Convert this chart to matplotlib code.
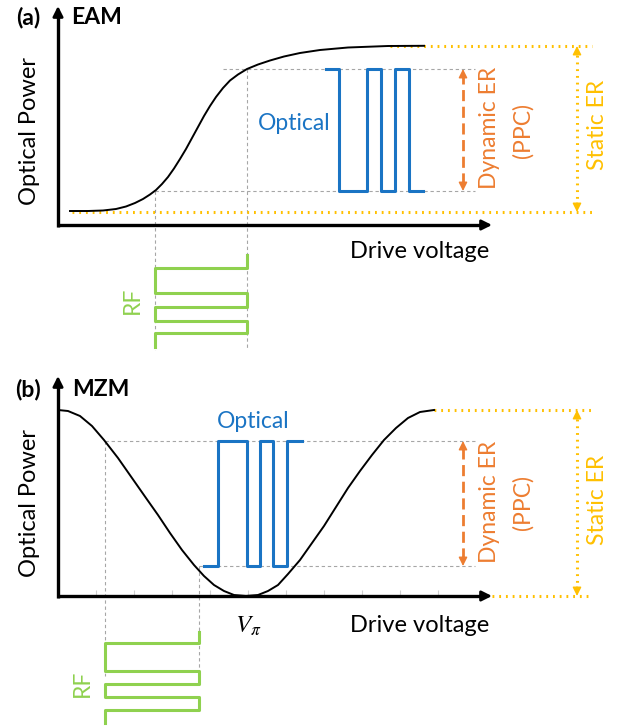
# EAM / MZM transfer-curve schematic: drive voltage -> optical power

import matplotlib.pyplot as plt

plt.rcParams['font.family'] = ['Lato', 'DejaVu Sans']
plt.rcParams['mathtext.fontset'] = 'stix'

BLUE = '#1a74c4'
GREEN = '#8fd14f'
ORANGE = '#ed7d31'
YELLOW = '#ffc000'
GRAY = '#a6a6a6'

# ---- data (drive voltage / optical power, arbitrary units)
# (a) EAM transfer curve
eam_v = [12, 30, 45, 58, 68, 77, 85, 92, 98, 104, 110, 116, 122, 128, 134, 140,
         146, 152, 158, 165, 172, 180, 189, 200, 212, 226, 242, 262, 290, 330,
         366]
eam_p = [14, 14, 14.5, 16, 18.5, 22, 26, 30.5, 35, 41, 48, 56.5, 66, 76, 87, 98,
         109, 119, 128, 137, 144.5, 150.5, 156, 160.5, 164.5, 168.5, 172, 175,
         177.5, 179, 179.2]
eam_ppc = [34, 156]          # optical low / high level of the modulated signal
eam_static = [13, 179]       # min / max of the curve
eam_rf_level = [97, 189]     # RF low / high drive voltage
eam_opt_edges = [268, 281, 309, 323, 337, 351, 365]
eam_rf_edges = [-30, -43, -68, -82, -96, -108, -122]

# (b) MZM transfer curve
mzm_v = [0, 10, 22, 34, 46, 60, 74, 88, 100, 112, 124, 136, 146, 156, 166, 176,
         188, 200, 210, 220, 230, 242, 254, 266, 278, 290, 302, 314, 326, 338,
         350, 362, 376]
mzm_p = [186, 185, 180, 170, 156, 138, 118, 98, 81, 63, 46, 31, 20, 11, 5, 1,
         0, 1, 5, 11, 22, 36, 53, 70, 89, 108, 125, 141, 156, 168, 178, 184, 186]
mzm_ppc = [30, 155]
mzm_static = [0, 186]
mzm_rf_level = [47, 141]
mzm_opt_edges = [146, 160, 189, 202, 215, 229, 244]
mzm_rf_edges = [-36, -47, -75, -88, -101, -114, -127]
mzm_ticks = [38, 76, 114, 152, 190, 228, 266, 304, 342, 380]
v_pi = 190

bits = [1, 0, 1, 0, 1, 0]


def square(edges, bits, lo, hi):
    xs, ys = [], []
    for i, b in enumerate(bits):
        lvl = hi if b else lo
        xs += [edges[i], edges[i + 1]]
        ys += [lvl, lvl]
    return xs, ys


def arrow(ax, xy, xytext, color, lw, ms):
    ap = dict(arrowstyle='-|>', color=color, lw=lw, mutation_scale=ms,
              shrinkA=0, shrinkB=0)
    an = ax.annotate('', xy=xy, xytext=xytext, arrowprops=ap,
                     annotation_clip=False)
    an.arrow_patch.set_clip_on(False)
    return an


def axes_arrows(ax, xtop, ytop):
    # shafts as plain lines, heads as short arrows
    ax.plot([0, 0], [-1.5, ytop - 8], color='k', lw=2.4, clip_on=False,
            solid_capstyle='butt', zorder=4)
    ax.plot([-1.5, xtop - 8], [0, 0], color='k', lw=2.4, clip_on=False,
            solid_capstyle='butt', zorder=4)
    arrow(ax, (0, ytop), (0, ytop - 12), 'k', 2.0, 15)
    arrow(ax, (xtop, 0), (xtop - 12, 0), 'k', 2.0, 15)


def double_arrow(ax, x, y0, y1, color, ls, lw=2.0):
    ax.plot([x, x], [y0 + 7, y1 - 7], color=color, lw=lw, ls=ls, clip_on=False)
    arrow(ax, (x, y1), (x, y1 - 9), color, 1, 13)
    arrow(ax, (x, y0), (x, y0 + 9), color, 1, 13)


fig = plt.figure(figsize=(6.2, 7.26), dpi=100)
W, H = 620, 726

# axes boxes in pixels: left, axis y (bottom), width, height
axa = fig.add_axes([58 / W, (H - 225) / H, 434 / W, 219 / H])
axb = fig.add_axes([58 / W, (H - 596) / H, 434 / W, 220 / H])

dash = (0, (3, 2.5))
dot = (0, (0.6, 1.6))

for ax in (axa, axb):
    ax.set_xlim(0, 434)
    ax.patch.set_visible(False)
    for s in ax.spines.values():
        s.set_visible(False)
    ax.set_yticks([])
axa.set_ylim(0, 219)
axb.set_ylim(0, 220)
axa.set_xticks([])
axb.set_xticks(mzm_ticks)
axb.tick_params(axis='x', direction='in', length=4, width=0.8,
                color='#cfcfcf', labelbottom=False)

# ---------------- (a) EAM
ax = axa
lo, hi = eam_ppc
ax.plot([eam_rf_level[1] - 24, 417], [hi, hi], color=GRAY, lw=0.8, ls=dash)
ax.plot([eam_rf_level[0], 417], [lo, lo], color=GRAY, lw=0.8, ls=dash)
for v, top in zip(eam_rf_level, [lo, hi]):
    ax.plot([v, v], [top, -125], color=GRAY, lw=0.8, ls=dash, clip_on=False)
ax.plot([14, 534], [eam_static[0]] * 2, color=YELLOW, lw=2.2, ls=dot,
        clip_on=False)
ax.plot([332, 534], [eam_static[1]] * 2, color=YELLOW, lw=2.2, ls=dot,
        clip_on=False)
ax.plot(eam_v, eam_p, color='k', lw=1.4, solid_joinstyle='round')
x, y = square(eam_opt_edges, bits, lo, hi)
ax.plot(x, y, color=BLUE, lw=2.2)
t, v = square(eam_rf_edges, bits, eam_rf_level[0], eam_rf_level[1])
ax.plot(v, t, color=GREEN, lw=2.2, clip_on=False)
double_arrow(ax, 405, lo, hi, ORANGE, (0, (4, 2)))
double_arrow(ax, 519, eam_static[0], eam_static[1], YELLOW, dot, lw=2.2)
axes_arrows(ax, 434, 219)

ax.text(-30, 208, '(a)', fontsize=16.5, fontweight='bold', ha='center',
        va='center')
ax.text(13, 208, 'EAM', fontsize=16.5, fontweight='bold', ha='left',
        va='center')
ax.text(-28, 94, 'Optical Power', fontsize=17, rotation=90, ha='center',
        va='center')
ax.text(362, -27, 'Drive voltage', fontsize=17, ha='center', va='center')
ax.text(236, 101, 'Optical', fontsize=16.5, color=BLUE, ha='center',
        va='center')
ax.text(74, -75, 'RF', fontsize=16.5, color=GREEN, rotation=90, ha='center',
        va='center')
ax.text(432, 97, 'Dynamic ER', fontsize=16.5, color=ORANGE, rotation=90,
        ha='center', va='center')
ax.text(465, 95, '(PPC)', fontsize=16.5, color=ORANGE, rotation=90,
        ha='center', va='center')
ax.text(540, 100, 'Static ER', fontsize=16.5, color=YELLOW, rotation=90,
        ha='center', va='center')

# ---------------- (b) MZM
ax = axb
lo, hi = mzm_ppc
ax.plot([mzm_rf_level[0], 417], [hi, hi], color=GRAY, lw=0.8, ls=dash)
ax.plot([mzm_rf_level[1], 417], [lo, lo], color=GRAY, lw=0.8, ls=dash)
for v, top in zip(mzm_rf_level, [hi, lo]):
    ax.plot([v, v], [top, -80], color=GRAY, lw=0.8, ls=dash, clip_on=False)
ax.plot([376, 534], [mzm_static[1]] * 2, color=YELLOW, lw=2.2, ls=dot,
        clip_on=False)
ax.plot([434, 534], [mzm_static[0]] * 2, color=YELLOW, lw=2.2, ls=dot,
        clip_on=False)
ax.plot(mzm_v, mzm_p, color='k', lw=1.4, solid_joinstyle='round')
x, y = square(mzm_opt_edges, [1 - b for b in bits], lo, hi)
ax.plot(x, y, color=BLUE, lw=2.2)
t, v = square(mzm_rf_edges, bits, mzm_rf_level[0], mzm_rf_level[1])
ax.plot(v, t, color=GREEN, lw=2.2, clip_on=False)
double_arrow(ax, 405, lo, hi, ORANGE, (0, (4, 2)))
double_arrow(ax, 519, mzm_static[0], mzm_static[1], YELLOW, dot, lw=2.2)
axes_arrows(ax, 434, 220)

ax.text(-30, 206, '(b)', fontsize=16.5, fontweight='bold', ha='center',
        va='center')
ax.text(14, 206, 'MZM', fontsize=16.5, fontweight='bold', ha='left',
        va='center')
ax.text(-28, 93, 'Optical Power', fontsize=17, rotation=90, ha='center',
        va='center')
ax.text(362, -29, 'Drive voltage', fontsize=17, ha='center', va='center')
ax.text(v_pi, -30, r'$V_\pi$', fontsize=18, ha='center', va='center')
ax.text(195, 174, 'Optical', fontsize=16.5, color=BLUE, ha='center',
        va='center')
ax.text(24, -87, 'RF', fontsize=16.5, color=GREEN, rotation=90, ha='center',
        va='center')
ax.text(432, 94, 'Dynamic ER', fontsize=16.5, color=ORANGE, rotation=90,
        ha='center', va='center')
ax.text(465, 93, '(PPC)', fontsize=16.5, color=ORANGE, rotation=90,
        ha='center', va='center')
ax.text(540, 96, 'Static ER', fontsize=16.5, color=YELLOW, rotation=90,
        ha='center', va='center')

fig.savefig('out.png', dpi=100)
